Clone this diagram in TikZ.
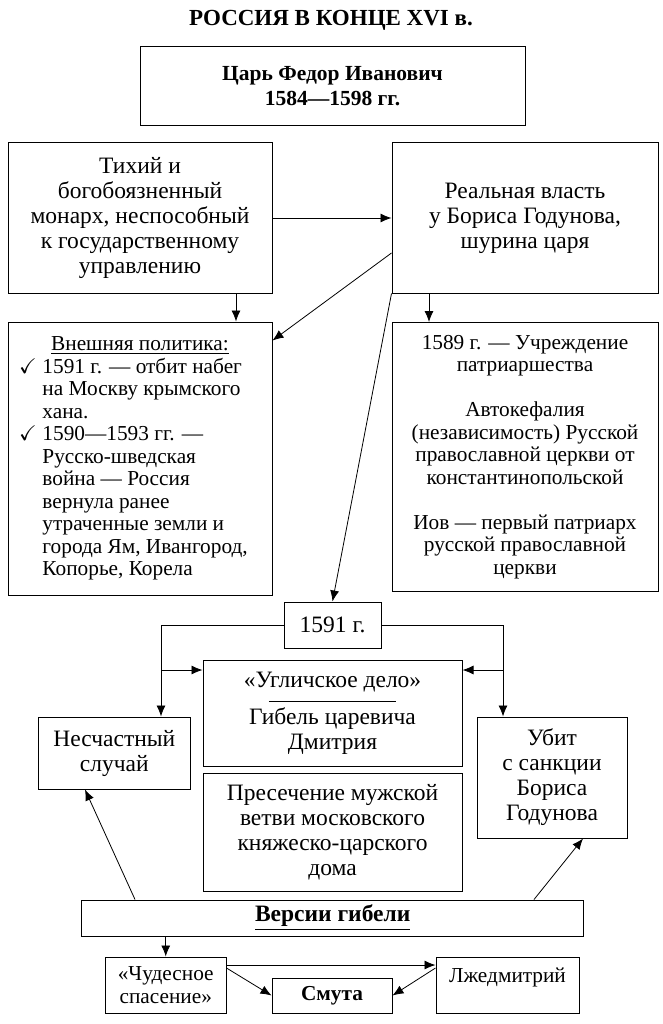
\documentclass[tikz,border=0pt]{standalone}
\usepackage{amssymb}
\usepackage{fontspec}
\setmainfont{Liberation Serif}
\usetikzlibrary{arrows.meta}

\newcommand{\titlefont}{\fontsize{23}{26}\selectfont\bfseries}
\newcommand{\boxfont}{\fontsize{23.5}{25}\selectfont}
\newcommand{\listfont}{\fontsize{21.3}{22.5}\selectfont}

\begin{document}
\begin{tikzpicture}[x=1pt, y=-1pt,
        cell/.style={draw, line width=1pt, align=center, inner sep=0pt, font=\boxfont},
        link/.style={-{Latex[length=11pt,width=9pt]}, line width=0.8pt}]
        \useasboundingbox (0,0) rectangle (662,1024);
        \node[font=\titlefont] (title) at (331,20) {РОССИЯ В КОНЦЕ XVI в.};
        \node[cell, font=\fontsize{21.5}{25}\selectfont\bfseries, minimum width=385pt, minimum height=79pt] (tsar) at (332.5,86.5) {Царь Федор Иванович\\1584—1598 гг.};
        \node[cell, minimum width=264pt, minimum height=150pt] (quiet) at (140,218) {Тихий и\\богобоязненный\\монарх, неспособный\\к государственному\\управлению};
        \node[cell, minimum width=266pt, minimum height=150pt] (power) at (525,218) {Реальная власть\\у Бориса Годунова,\\шурина царя};
        \node[cell, font=\listfont, minimum width=264pt, minimum height=273pt] (foreign) at (140,458.5) {\begin{tabular}{@{}p{14pt}@{\hspace{9.5pt}}p{218.5pt}@{}}
            \multicolumn{2}{c}{\underline{Внешняя политика:}}\\
            $\checkmark$ & 1591 г. — отбит набег\\
            & на Москву крымского\\
            & хана.\\
            $\checkmark$ & 1590—1593 гг. —\\
            & Русско-шведская\\
            & война — Россия\\
            & вернула ранее\\
            & утраченные земли и\\
            & города Ям, Ивангород,\\
            & Копорье, Корела
        \end{tabular}};
        \node[cell, font=\listfont, minimum width=266pt, minimum height=269pt] (patr) at (525,457) {1589 г. — Учреждение\\патриаршества\\[22.5pt]Автокефалия\\(независимость) Русской\\православной церкви от\\константинопольской\\[22.5pt]Иов — первый патриарх\\русской православной\\церкви};
        % 1591
        \node[cell, minimum width=97pt, minimum height=46pt] (year) at (332.5,625) {1591 г.};
        \node[cell, minimum width=259pt, minimum height=106pt] (uglich) at (332.5,713) {«Угличское дело»\\[-10.5pt]\rule{127.5pt}{0.8pt}\\[-2.25pt]Гибель царевича\\Дмитрия};
        \node[cell, minimum width=259pt, minimum height=118pt] (ending) at (332.5,832) {Пресечение мужской\\ветви московского\\княжеско-царского\\дома};
        \node[cell, minimum width=152.6pt, minimum height=72pt] (accident) at (114.3,753) {Несчастный\\случай};
        \node[cell, minimum width=150pt, minimum height=121pt] (killed) at (552,777.5) {Убит\\с санкции\\Бориса\\Годунова};
        \node[cell, font=\boxfont\bfseries, minimum width=502pt, minimum height=36pt] (versions) at (332.7,918) {\underline{Версии гибели}};
        \node[cell, font=\listfont, minimum width=120.5pt, minimum height=56pt] (miracle) at (165.75,985) {«Чудесное\\спасение»};
        \node[cell, font=\listfont\bfseries, minimum width=120pt, minimum height=35pt] (smuta) at (332,995.5) {Смута};
        \node[cell, font=\listfont, minimum width=143pt, minimum height=56pt] (pretender) at (507.5,985) {Лжедмитрий\\[-9pt]\strut};
        % connectors
        \draw[link] (quiet) -- (power);
        \draw[link] ([xshift=96pt]quiet.south) -- ([xshift=96pt]foreign.north);
        \draw[link] ([xshift=-96pt]power.south) -- ([xshift=-96pt]patr.north);
        \draw[link] ([yshift=-35pt]power.west) -- ([yshift=-19pt]foreign.north east);
        \draw[link] (power.south west) -- (year.north);
        \coordinate (lx) at ([xshift=46.7pt]accident.north);
        \coordinate (ly) at ([yshift=43pt]uglich.west);
        \coordinate (rx) at ([xshift=-49pt]killed.north);
        \coordinate (ry) at ([yshift=43pt]uglich.east);
        \draw[link] (year.west) -| (lx);
        \draw[link] (lx |- ly) -- (ly);
        \draw[link] (year.east) -| (rx);
        \draw[link] (rx |- ry) -- (ry);
        \draw[link] ([xshift=-197.7pt]versions.north) -- ([xshift=-29.3pt]accident.south);
        \draw[link] ([xshift=201.3pt]versions.north) -- ([xshift=31pt]killed.south);
        \draw[link] (versions.south -| miracle.north) -- (miracle.north);
        \draw[link] ([yshift=20pt]miracle.east) -- ([yshift=20pt]pretender.west);
        \draw[link] ([yshift=17pt]miracle.east) -- (smuta.west);
        \draw[link] ([yshift=17pt]pretender.west) -- (smuta.east);
    \end{tikzpicture}
\end{document}
